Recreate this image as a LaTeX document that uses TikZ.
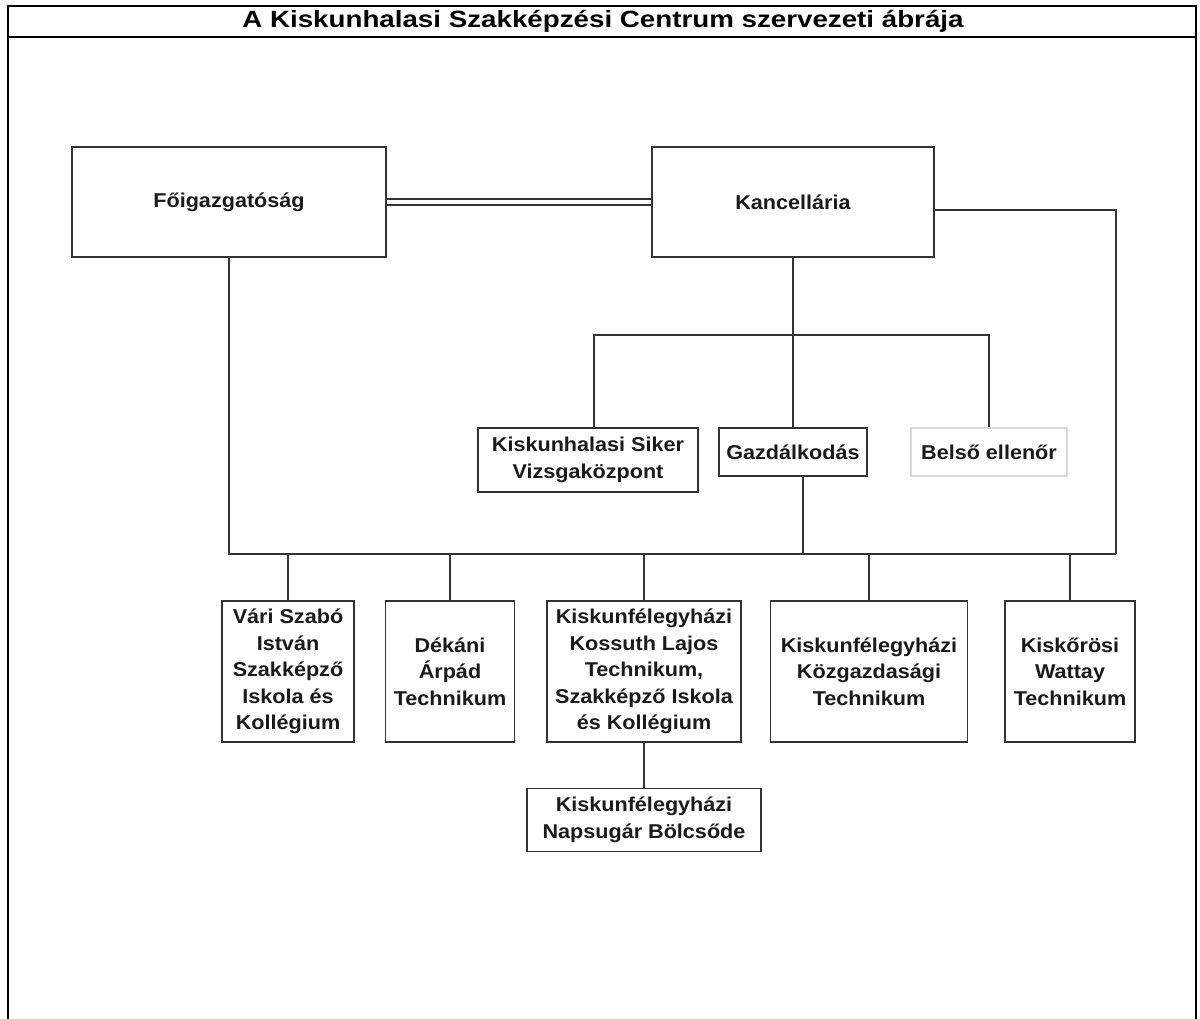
\documentclass[tikz,border=0pt]{standalone}
\usepackage{fontspec}
\setmainfont{Liberation Sans}[FakeStretch=1.08]
\newfontfamily\titlefont{Liberation Sans}[FakeStretch=1.18]
\definecolor{boxc}{HTML}{333333}
\definecolor{lightc}{HTML}{D9D9D9}
\definecolor{textc}{HTML}{1A1A1A}
\tikzset{
  box/.style={draw=boxc, line width=1.4pt, fill=white, inner sep=0pt, align=center,
    text=textc, font=\bfseries\fontsize{20}{26.5}\selectfont},
  lightbox/.style={box, draw=lightc},
  conn/.style={draw=boxc, line width=1.4pt},
  frame/.style={draw=black, line width=2pt},
}
\begin{document}
\begin{tikzpicture}[x=1pt, y=-1pt]
\useasboundingbox (0,0) rectangle (1200,1018);
% frame and title
\coordinate (fbl) at (8,1020);
\coordinate (ftl) at (8,6);
\coordinate (ftr) at (1196,6);
\coordinate (fbr) at (1196,1020);
\coordinate (sl) at (8,37);
\coordinate (sr) at (1196,37);
\draw[frame] (fbl) -- (ftl) -- (ftr) -- (fbr);
\draw[frame] (sl) -- (sr);
\node[font=\titlefont\bfseries\fontsize{23.5}{28}\selectfont, text=black] (title) at (603,21.5)
  {A Kiskunhalasi Szakképzési Centrum szervezeti ábrája};
% top level
\node[box, minimum width=314pt, minimum height=110pt] (fo) at (229,202) {Főigazgatóság};
\node[box, minimum width=282pt, minimum height=110pt] (ka) at (793,202) {Kancellária};
% second level
\node[box, minimum width=220pt, minimum height=64pt] (siker) at (588,460) {Kiskunhalasi Siker\\Vizsgaközpont};
\node[box, minimum width=148pt, minimum height=48pt] (gazd) at (793,452) {Gazdálkodás};
\node[lightbox, minimum width=156pt, minimum height=48pt] (belso) at (989,452) {Belső ellenőr};
% schools
\node[box, minimum width=132pt, minimum height=141pt] (vari) at (288,671.5) {Vári Szabó\\István\\Szakképző\\Iskola és\\Kollégium};
\node[box, minimum width=129pt, minimum height=141pt] (dek) at (450,671.5) {Dékáni\\Árpád\\Technikum};
\node[box, minimum width=194pt, minimum height=141pt] (kos) at (644,671.5) {Kiskunfélegyházi\\Kossuth Lajos\\Technikum,\\Szakképző Iskola\\és Kollégium};
\node[box, minimum width=197pt, minimum height=141pt] (koz) at (869,671.5) {Kiskunfélegyházi\\Közgazdasági\\Technikum};
\node[box, minimum width=130pt, minimum height=141pt] (kisk) at (1070,671.5) {Kiskőrösi\\Wattay\\Technikum};
\node[box, minimum width=234pt, minimum height=63pt] (nap) at (644,820) {Kiskunfélegyházi\\Napsugár Bölcsőde};
% connectors
\coordinate (busR) at (1116,554);
\coordinate (gb) at (803,554);
\coordinate (sk) at (594,335);
\coordinate (bl) at (989,335);
\draw[conn, double=white, double distance=4.6pt] (fo.east) -- (ka.west);
\draw[conn] (fo.south) |- (busR);
\draw[conn] ([yshift=-8pt]ka.east) -| (busR);
\draw[conn] (ka.south) -- (gazd.north);
\draw[conn] (sk |- siker.north) -- (sk) -- (bl) -- (bl |- belso.north);
\draw[conn] (gazd.south -| gb) -- (gb);
\foreach \n in {vari,dek,kos,koz,kisk}{
  \draw[conn] (\n.north) -- (\n.north |- busR);
}
\draw[conn] (kos.south) -- (nap.north);
\end{tikzpicture}
\end{document}
